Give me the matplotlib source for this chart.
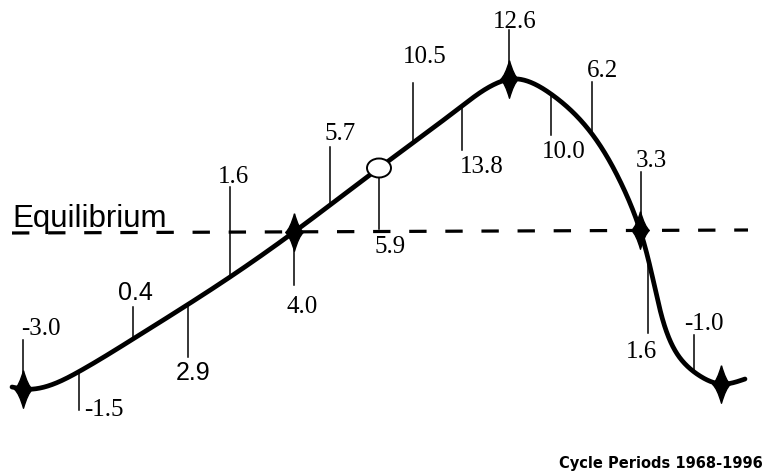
import numpy as np
import matplotlib
matplotlib.use("Agg")
import matplotlib.pyplot as plt
from matplotlib.path import Path
from matplotlib.patches import Ellipse

plt.rcParams['lines.scale_dashes'] = False

# ---- data: cycle curve (schematic, pixel space of the drawing) ----
curve_x = [12, 23, 80, 133, 230, 294, 379, 462, 495, 511,
           551, 592, 620, 640, 657, 667, 680, 700, 721, 745]
curve_y = [387, 389, 371, 339, 277, 232, 168, 106, 84, 79,
           94, 134, 181, 230, 297, 333, 358, 376, 384, 379]

# ---- annotation values ----
tick_labels = ["-3.0", "-1.5", "0.4", "2.9", "1.6", "4.0", "5.7", "5.9",
               "10.5", "13.8", "12.6", "10.0", "6.2", "3.3", "1.6", "-1.0"]
tick_sans = [False, False, True, True, False, False, False, False,
             False, False, False, False, False, False, False, False]
# layout of annotations
tick_x = [23, 79, 133, 188, 230, 294, 330, 379, 413, 462, 509, 551, 592, 641, 648, 694]
tick_far_y = [340, 410, 307, 357, 187, 285, 147, 229, 83, 150, 30, 135, 82, 172, 333, 335]
label_x = [41, 104, 135, 193, 233, 302, 340, 390, 425, 482, 515, 564, 603, 651, 641, 704]
label_base = [335, 416, 300, 380, 183, 313, 140, 253, 63, 173, 28, 158, 77, 167, 358, 330]

diamond_x = [23, 294, 509, 640, 721]
ellipse_x = 379

equilibrium_label = "Equilibrium"
footer = "Cycle Periods 1968-1996"


def natural_spline(t, v, tt):
    n = len(t)
    h = np.diff(t)
    A = np.zeros((n, n))
    r = np.zeros(n)
    A[0, 0] = A[-1, -1] = 1
    for i in range(1, n - 1):
        A[i, i - 1] = h[i - 1]
        A[i, i] = 2 * (h[i - 1] + h[i])
        A[i, i + 1] = h[i]
        r[i] = 3 * ((v[i + 1] - v[i]) / h[i] - (v[i] - v[i - 1]) / h[i - 1])
    c = np.linalg.solve(A, r)
    b = np.diff(v) / h - h * (2 * c[:-1] + c[1:]) / 3
    d = np.diff(c) / (3 * h)
    idx = np.clip(np.searchsorted(t, tt, side='right') - 1, 0, n - 2)
    dt = tt - t[idx]
    return v[idx] + b[idx] * dt + c[idx] * dt ** 2 + d[idx] * dt ** 3


def smooth_curve(xs, ys, n=1500):
    xs = np.asarray(xs, float)
    ys = np.asarray(ys, float)
    t = np.concatenate([[0], np.cumsum(np.hypot(np.diff(xs), np.diff(ys)))])
    tt = np.linspace(0, t[-1], n)
    return natural_spline(t, xs, tt), natural_spline(t, ys, tt)


fig = plt.figure(figsize=(7.65, 4.76), dpi=100)
ax = fig.add_axes([0, 0, 1, 1])
ax.set_xlim(0, 765)
ax.set_ylim(476, 0)
ax.axis('off')

cx, cy_all = smooth_curve(curve_x, curve_y)
order = np.argsort(cx)


def curve_at(x):
    return np.interp(x, cx[order], cy_all[order])


# equilibrium dashed line
ax.plot([12, 748], [233, 230], color='black', lw=2.3, dashes=(12.5, 13.5), zorder=2)
ax.text(12, 227, equilibrium_label, family=['Liberation Sans', 'DejaVu Sans'],
        fontsize=22.5, ha='left', va='baseline', color='black')

# tick lines and labels
for lab, sans, tx, fy, lx, lb in zip(tick_labels, tick_sans, tick_x, tick_far_y,
                                       label_x, label_base):
    cyv = curve_at(tx)
    ax.plot([tx, tx], [cyv, fy], color='black', lw=1.1, zorder=3)
    fam = ['Liberation Sans'] if sans else ['Liberation Serif']
    ax.text(lx, lb, lab, family=fam, fontsize=18, ha='center', va='baseline',
            color='black')

# main curve
ax.plot(cx, cy_all, color='black', lw=3.4, solid_capstyle='round', zorder=4)

# concave diamond markers
k = 0.22
verts = [(0, 1), (k, k), (0.47, 0), (k, -k), (0, -1),
         (-k, -k), (-0.47, 0), (-k, k), (0, 1)]
codes = [Path.MOVETO] + [Path.CURVE3] * 8
star = Path(verts, codes)
dy = [curve_at(x) for x in diamond_x]
ax.plot(diamond_x, dy, linestyle='none', marker=star, markersize=27,
        color='black', zorder=5)

# open ellipse marker
ax.add_patch(Ellipse((ellipse_x, curve_at(ellipse_x)), 24, 19, facecolor='white',
                     edgecolor='black', lw=1.4, zorder=6))

ax.text(763, 468, footer, family=['DejaVu Sans'], fontweight='bold',
        fontsize=10.5, ha='right', va='baseline', color='black')

fig.savefig('out.png', dpi=100)
